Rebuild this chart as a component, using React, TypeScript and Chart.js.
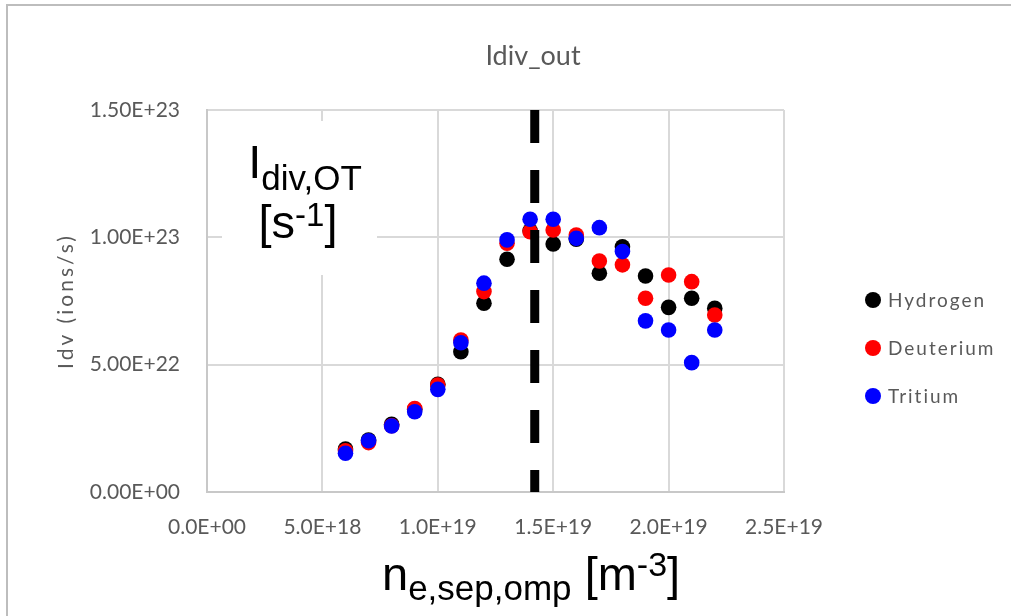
import React, { useEffect, useRef } from "react";
import { Chart, registerables } from "chart.js";

Chart.register(...registerables);

// ---- data ----
const xValues = [6e18, 7e18, 8e18, 9e18, 1.0e19, 1.1e19, 1.2e19, 1.3e19, 1.4e19, 1.5e19, 1.6e19, 1.7e19, 1.8e19, 1.9e19, 2.0e19, 2.1e19, 2.2e19];
const hydrogen = [1.69e22, 2.04e22, 2.66e22, 3.25e22, 4.23e22, 5.51e22, 7.41e22, 9.14e22, 1.026e23, 9.74e22, 9.93e22, 8.59e22, 9.63e22, 8.48e22, 7.25e22, 7.61e22, 7.21e22];
const deuterium = [1.62e22, 1.94e22, 2.6e22, 3.28e22, 4.2e22, 5.97e22, 7.87e22, 9.77e22, 1.022e23, 1.029e23, 1.009e23, 9.07e22, 8.92e22, 7.61e22, 8.52e22, 8.26e22, 6.95e22];
const tritium = [1.52e22, 2.01e22, 2.59e22, 3.15e22, 4.03e22, 5.86e22, 8.2e22, 9.9e22, 1.071e23, 1.071e23, 9.96e22, 1.038e23, 9.44e22, 6.72e22, 6.36e22, 5.08e22, 6.36e22];
const seriesNames = ["Hydrogen", "Deuterium", "Tritium"];
const separatrixX = 1.42e19;
const yTicks = [0, 5e22, 1e23, 1.5e23];
const xTicks = [0, 5e18, 1e19, 1.5e19, 2e19, 2.5e19];
const chartTitle = "Idiv_out";
const yAxisTitle = "Idv (ions/s)";

function sci(v: number, digits: number): string {
  const [m, e] = v.toExponential(digits).split("e");
  const n = parseInt(e, 10);
  return m + "E" + (n < 0 ? "-" : "+") + String(Math.abs(n)).padStart(2, "0");
}

const GRAY = "#595959";
const SANS = "Lato, 'Open Sans', sans-serif";
const ARIAL = "'Liberation Sans', Arial, sans-serif";

type Seg = { t: string; size: number; dy: number };

function drawRich(ctx: CanvasRenderingContext2D, segs: Seg[], x: number, baseline: number, align: "left" | "center") {
  ctx.save();
  ctx.textBaseline = "alphabetic";
  ctx.textAlign = "left";
  ctx.fillStyle = "#000";
  let total = 0;
  const widths = segs.map((s) => {
    ctx.font = `${s.size}px ${ARIAL}`;
    const w = ctx.measureText(s.t).width;
    total += w;
    return w;
  });
  let cx = align === "center" ? x - total / 2 : x;
  segs.forEach((s, i) => {
    ctx.font = `${s.size}px ${ARIAL}`;
    ctx.fillText(s.t, cx, baseline + s.dy);
    cx += widths[i];
  });
  ctx.restore();
}

const decorPlugin = {
  id: "decor",
  beforeDraw(chart: any) {
    const ctx = chart.ctx as CanvasRenderingContext2D;
    ctx.save();
    ctx.fillStyle = "#fff";
    ctx.fillRect(0, 0, chart.width, chart.height);
    ctx.strokeStyle = "#bdbdbd";
    ctx.lineWidth = 2;
    ctx.beginPath();
    ctx.moveTo(7, chart.height);
    ctx.lineTo(7, 5);
    ctx.lineTo(chart.width, 5);
    ctx.stroke();
    ctx.restore();
  },
  beforeDatasetsDraw(chart: any) {
    const ctx = chart.ctx as CanvasRenderingContext2D;
    ctx.save();
    ctx.fillStyle = "#fff";
    ctx.fillRect(222, 121, 155, 154);
    ctx.restore();
    drawRich(ctx, [
      { t: "I", size: 47, dy: 0 },
      { t: "div,OT", size: 35, dy: 12 },
    ], 305, 178, "center");
    drawRich(ctx, [
      { t: "[s", size: 47, dy: 0 },
      { t: "-1", size: 33, dy: -12 },
      { t: "]", size: 47, dy: 0 },
    ], 298, 238, "center");
  },
  afterDraw(chart: any) {
    const ctx = chart.ctx as CanvasRenderingContext2D;
    ctx.save();
    // title
    ctx.fillStyle = GRAY;
    ctx.font = `27px ${SANS}`;
    ctx.textAlign = "center";
    ctx.textBaseline = "alphabetic";
    ctx.fillText(chartTitle, 533, 65);
    // y axis title
    ctx.save();
    ctx.translate(66, 301);
    ctx.rotate(-Math.PI / 2);
    ctx.font = `21px ${SANS}`;
    (ctx as any).letterSpacing = "3px";
    ctx.textAlign = "center";
    ctx.textBaseline = "middle";
    ctx.fillText(yAxisTitle, 0, 0);
    ctx.restore();
    // legend
    const ds = chart.data.datasets.filter((d: any) => seriesNames.includes(d.label));
    ds.forEach((d: any, i: number) => {
      const y = 300 + i * 48;
      ctx.beginPath();
      ctx.fillStyle = d.backgroundColor;
      ctx.arc(873, y, 8, 0, Math.PI * 2);
      ctx.fill();
      ctx.fillStyle = GRAY;
      ctx.font = `19px ${SANS}`;
      (ctx as any).letterSpacing = "2px";
      ctx.textAlign = "left";
      ctx.textBaseline = "middle";
      ctx.fillText(d.label, 888, y + 1);
    });
    (ctx as any).letterSpacing = "0px";
    ctx.restore();
    // x axis title
    drawRich(ctx, [
      { t: "n", size: 47, dy: 0 },
      { t: "e,sep,omp", size: 35, dy: 10 },
      { t: " [m", size: 47, dy: 0 },
      { t: "-3", size: 34, dy: -14 },
      { t: "]", size: 47, dy: 0 },
    ], 382, 590, "left");
  },
};

export default function App() {
  const ref = useRef<HTMLCanvasElement | null>(null);
  useEffect(() => {
    if (!ref.current) return;
    const mk = (vals: number[]) => xValues.map((x, i) => ({ x, y: vals[i] }));
    const colors = ["#000000", "#ff0000", "#0000ff"];
    const series = [hydrogen, deuterium, tritium];
    const datasets: any[] = series.map((vals, i) => ({
      type: "scatter",
      label: seriesNames[i],
      data: mk(vals),
      backgroundColor: colors[i],
      borderColor: colors[i],
      borderWidth: 0,
      pointRadius: 7.8,
      order: 3 - i,
    }));
    datasets.push({
      type: "line",
      label: "separatrix",
      data: [
        { x: separatrixX, y: yTicks[yTicks.length - 1] },
        { x: separatrixX, y: yTicks[0] },
      ],
      borderColor: "#000",
      borderWidth: 9,
      borderDash: [33, 27],
      borderCapStyle: "butt",
      pointRadius: 0,
      fill: false,
      order: 0,
    });
    const gridColor = "#d9d9d9";
    const chart = new Chart(ref.current, {
      type: "scatter",
      data: { datasets },
      plugins: [decorPlugin],
      options: {
        responsive: false,
        animation: false,
        events: [],
        layout: { padding: { left: 0, top: 110, right: 227, bottom: 64 } },
        plugins: {
          legend: { display: false },
          title: { display: false },
          tooltip: { enabled: false },
        },
        scales: {
          x: {
            type: "linear",
            min: xTicks[0],
            max: xTicks[xTicks.length - 1],
            afterBuildTicks: (s: any) => {
              s.ticks = xTicks.map((v) => ({ value: v }));
            },
            afterFit: (s: any) => {
              s.height = 60;
            },
            grid: { color: gridColor, lineWidth: 2, drawTicks: false },
            border: { color: "#c8c8c8", width: 2 },
            ticks: {
              padding: 23,
              color: GRAY,
              font: { family: SANS, size: 21 },
              maxRotation: 0,
              callback: (v: any) => sci(Number(v), 1),
            },
          },
          y: {
            type: "linear",
            min: yTicks[0],
            max: yTicks[yTicks.length - 1],
            afterBuildTicks: (s: any) => {
              s.ticks = yTicks.map((v) => ({ value: v }));
            },
            afterFit: (s: any) => {
              s.width = 207;
            },
            grid: { color: gridColor, lineWidth: 2, drawTicks: false },
            border: { color: "#c8c8c8", width: 2 },
            ticks: {
              padding: 27,
              color: GRAY,
              font: { family: SANS, size: 21 },
              callback: (v: any) => sci(Number(v), 2),
            },
          },
        },
      },
    } as any);
    return () => chart.destroy();
  }, []);
  return (
    <div style={{ position: "fixed", left: 0, top: 0, width: 1011, height: 616, background: "#fff" }}>
      <canvas ref={ref} width={1011} height={616} style={{ width: 1011, height: 616, display: "block" }} />
    </div>
  );
}
